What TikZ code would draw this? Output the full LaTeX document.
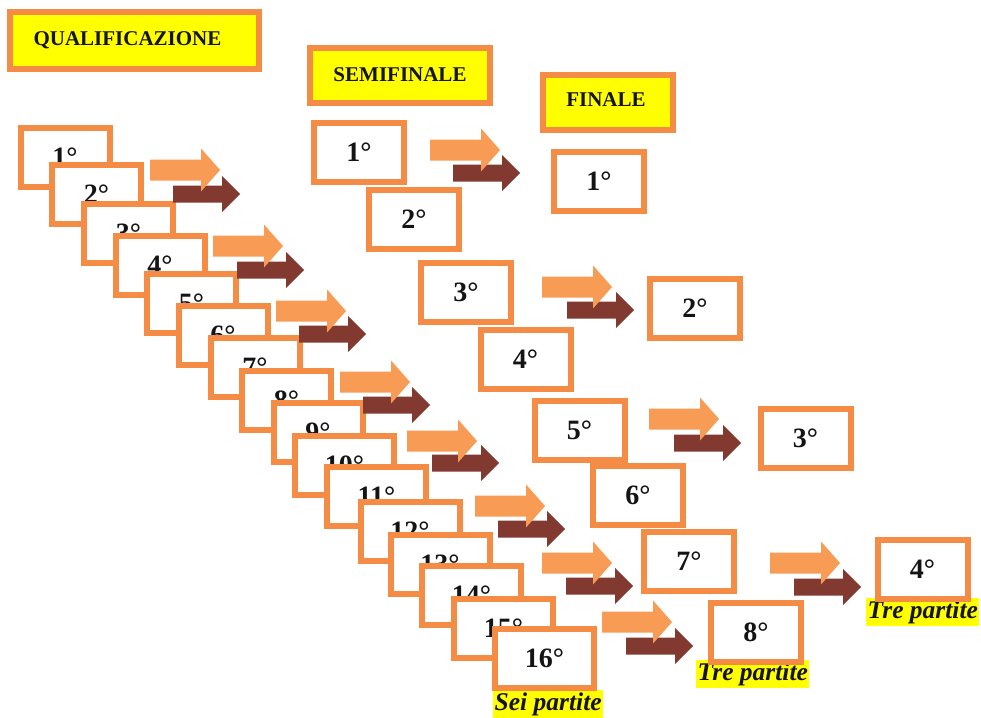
\documentclass[tikz,border=0pt]{standalone}
\usepackage{fontspec}
\setmainfont{Liberation Serif}
\definecolor{boxor}{RGB}{245,140,70}
\definecolor{arror}{RGB}{248,155,85}
\definecolor{arrbr}{RGB}{130,58,48}
\definecolor{hdryel}{RGB}{255,255,0}
\definecolor{txtdark}{RGB}{20,20,20}
\begin{document}
\begin{tikzpicture}[x=1pt,y=-1pt,
  box/.style={draw=boxor, line width=6pt, fill=white, inner sep=0pt,
    text=txtdark, font=\bfseries\fontsize{28}{30}\selectfont},
  qs/.style={box, minimum width=89, minimum height=59},
  ql/.style={box, minimum width=99, minimum height=59},
  sb/.style={box, minimum width=90, minimum height=59},
  hbox/.style={draw=boxor, line width=6pt, fill=hdryel, inner sep=0pt},
  htxt/.style={inner sep=0pt, text=txtdark, font=\bfseries\fontsize{21}{23}\selectfont},
  lbl/.style={fill=hdryel, inner xsep=1.5pt, inner ysep=0pt, minimum height=28,
    text=txtdark, font=\bfseries\itshape\fontsize{25.5}{27}\selectfont, anchor=north west},
  orarrow/.pic={\fill[arror] (0,-10.5) -- (51,-10.5) -- (51,-21.5) -- (70,0)
     -- (51,21.5) -- (51,10.5) -- (0,10.5) -- cycle;},
  brarrow/.pic={\fill[arrbr] (0,-8.5) -- (49,-8.5) -- (49,-18) -- (67,0)
     -- (49,18) -- (49,8.5) -- (0,8.5) -- cycle;}
]
\useasboundingbox (0,0) rectangle (981,717);

% labels (under the boxes)
\node[lbl] (l1) at (696,660) {Tre partite};
\node[lbl] (l2) at (866,598) {Tre partite};
\node[lbl] (l3) at (493,690) {Sei partite};

% qualification boxes
\node[qs] (q1) at (65,157) {1°};
\node[qs] (q2) at (96.5,194.5) {2°};
\node[qs] (q3) at (128.5,233) {3°};
\node[qs] (q4) at (160,265.5) {4°};
\node[qs] (q5) at (191.5,303) {5°};
\node[qs] (q6) at (223,335) {6°};
\node[qs] (q7) at (255,367.5) {7°};
\node[qs] (q8) at (286.5,400) {8°};
\node[qs] (q9) at (318,432.5) {9°};
\node[ql] (q10) at (344.5,465.5) {10°};
\node[ql] (q11) at (376.5,496.5) {11°};
\node[ql] (q12) at (410,531.5) {12°};
\node[ql] (q13) at (440,564.5) {13°};
\node[ql] (q14) at (471.5,595.5) {14°};
\node[ql] (q15) at (503.5,628.5) {15°};
\node[ql] (q16) at (544.5,658) {16°};

% semifinal boxes
\node[sb] (s1) at (359,152.5) {1°};
\node[sb] (s2) at (414,219) {2°};
\node[sb] (s3) at (466,292.5) {3°};
\node[sb] (s4) at (525.5,359.5) {4°};
\node[sb] (s5) at (579.5,430) {5°};
\node[sb] (s6) at (638,495) {6°};
\node[sb] (s7) at (689,561.5) {7°};
\node[sb] (s8) at (756,632) {8°};

% final boxes
\node[sb] (f1) at (599,181) {1°};
\node[sb] (f2) at (695,308.5) {2°};
\node[sb] (f3) at (805.5,438) {3°};
\node[sb] (f4) at (922.5,569.5) {4°};

% headers
\node[hbox, minimum width=249, minimum height=57] (hq) at (134.5,40.5) {};
\node[htxt] (hqt) at (127.5,40) {QUALIFICAZIONE};
\node[hbox, minimum width=180, minimum height=55] (hs) at (400,75.5) {};
\node[htxt] (hst) at (400,75) {SEMIFINALE};
\node[hbox, minimum width=130, minimum height=55] (hf) at (608,102.5) {};
\node[htxt] (hft) at (606,100) {FINALE};

% arrow pairs: brown first, orange on top
\foreach \ox/\oy/\bx/\by in {
  150/170/173/194, 213/246/237/270, 276/311/299/334, 340/382/363/405,
  407/441/432/463, 475/506/498/529, 542/563/566/586, 602/622/626/646,
  430/150/453/173, 542/287/567/310, 649/419/674/443, 770/563/794/587}{
  \pic at (\bx,\by) {brarrow};
  \pic at (\ox,\oy) {orarrow};
}
\end{tikzpicture}
\end{document}
